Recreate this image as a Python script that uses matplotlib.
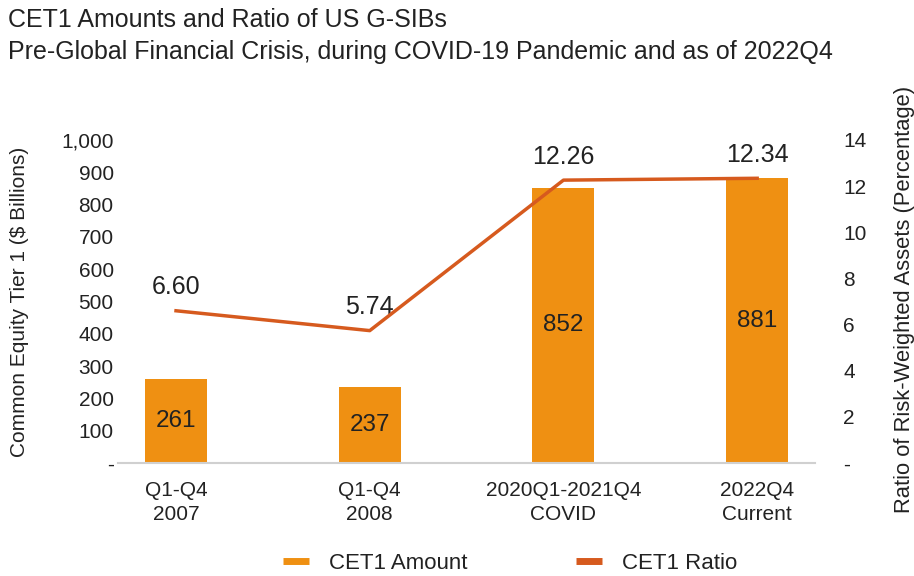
import numpy as np
import matplotlib
matplotlib.use("Agg")
import matplotlib.pyplot as plt
from matplotlib.ticker import FuncFormatter
from matplotlib.lines import Line2D

plt.rcParams['font.family'] = ['Liberation Sans', 'DejaVu Sans']

categories = ["Q1-Q4\n2007", "Q1-Q4\n2008", "2020Q1-2021Q4\nCOVID", "2022Q4\nCurrent"]
amounts = [261, 237, 852, 881]
ratios = [6.60, 5.74, 12.26, 12.34]

bar_color = "#EF9012"
line_color = "#D65A1E"
text_color = "#222222"

fig = plt.figure(figsize=(9.14, 5.76), dpi=100)
ax = fig.add_axes([0.129, 0.196, 0.763, 0.561])
ax2 = ax.twinx()

x = np.arange(len(categories))
ax.bar(x, amounts, width=0.32, color=bar_color, label="CET1 Amount", zorder=2)
for xi, v in zip(x, amounts):
    ax.text(xi, v / 2, str(v), ha="center", va="center", fontsize=17.5, color=text_color, zorder=3)

ax2.plot(x, ratios, color=line_color, linewidth=2.5, label="CET1 Ratio", zorder=4)
for xi, r in zip(x, ratios):
    ax2.text(xi, r + 0.5, f"{r:.2f}", ha="center", va="bottom", fontsize=18, color=text_color)

ax.set_xlim(-0.3, 3.3)
ax.set_ylim(0, 1000)
ax2.set_ylim(0, 14)
ax.set_yticks(np.arange(0, 1001, 100))
ax2.set_yticks(np.arange(0, 15, 2))
ax.yaxis.set_major_formatter(FuncFormatter(lambda v, p: "-" if v == 0 else f"{int(v):,}"))
ax2.yaxis.set_major_formatter(FuncFormatter(lambda v, p: "-" if v == 0 else f"{int(v)}"))
ax.set_xticks(x)
ax.set_xticklabels(categories, linespacing=1.35)

for a in (ax, ax2):
    for s in a.spines.values():
        s.set_visible(False)
    a.tick_params(length=0, labelsize=15, colors=text_color)
ax.spines["bottom"].set_visible(True)
ax.spines["bottom"].set_color("#d0d0d0")
ax.spines["bottom"].set_linewidth(1.5)
ax.tick_params(axis="x", pad=13)
ax.tick_params(axis="y", pad=3)
ax2.tick_params(axis="y", pad=20)

ax.set_ylabel("Common Equity Tier 1 ($ Billions)", fontsize=15, color=text_color,
              rotation=90, va="center")
ax.yaxis.set_label_coords(-0.141, 0.5)
ax2.set_ylabel("Ratio of Risk-Weighted Assets (Percentage)", fontsize=15.8, color=text_color,
               rotation=90, va="center")
ax2.yaxis.set_label_coords(1.128, 0.505)

fig.text(0.009, 0.965, "CET1 Amounts and Ratio of US G-SIBs", fontsize=18, color=text_color, va="center")
fig.text(0.009, 0.909, "Pre-Global Financial Crisis, during COVID-19 Pandemic and as of 2022Q4",
         fontsize=18, color=text_color, va="center")

labels = ["CET1 Amount", "CET1 Ratio"]
handles = [Line2D([0], [0], color=bar_color, linewidth=5, solid_capstyle="butt"),
           Line2D([0], [0], color=line_color, linewidth=5, solid_capstyle="butt")]
fig.legend(handles, labels, loc="center", bbox_to_anchor=(0.558, 0.022), ncol=2, frameon=False,
           fontsize=16, handlelength=1.15, handletextpad=0.9, columnspacing=4.9, labelcolor=text_color)

fig.savefig("out.png", dpi=100)
